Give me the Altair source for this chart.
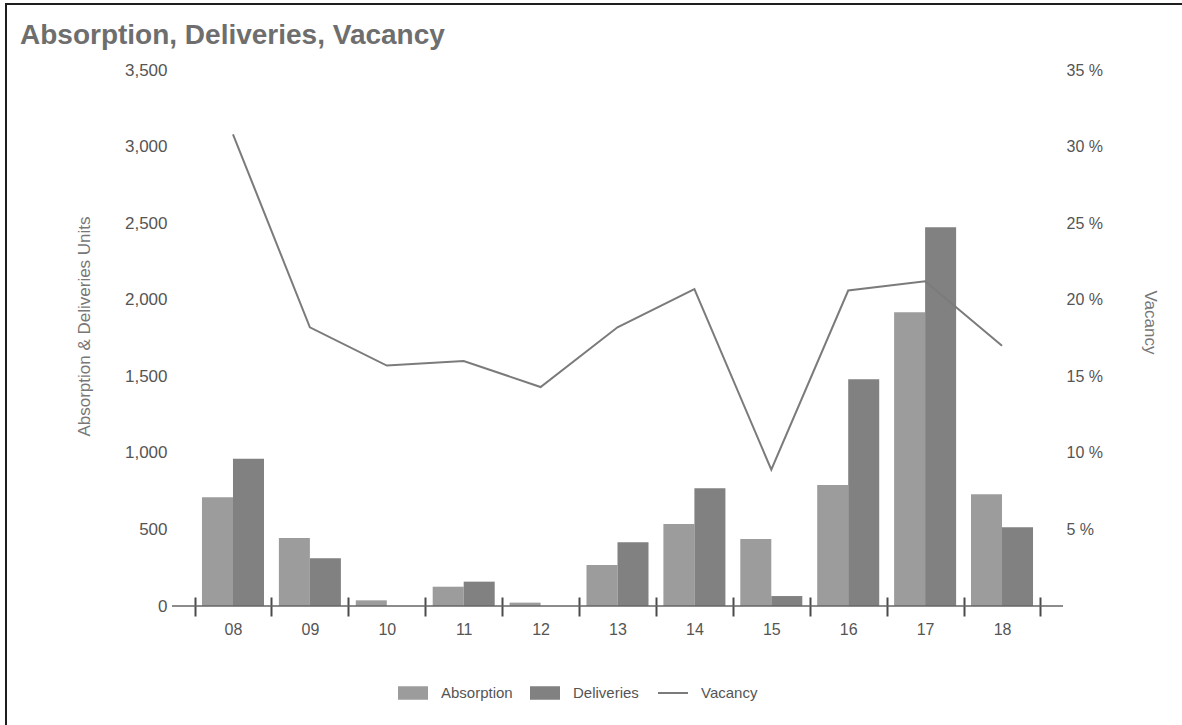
import altair as alt
import pandas as pd

# Year labels and yearly figures
years = ["08", "09", "10", "11", "12", "13", "14", "15", "16", "17", "18"]
absorption = [710, 444, 37, 126, 22, 268, 536, 438, 790, 1918, 730]
deliveries = [962, 311, 0, 159, 0, 416, 769, 65, 1480, 2473, 514]
vacancy = [30.8, 18.2, 15.7, 16.0, 14.3, 18.2, 20.7, 8.9, 20.6, 21.2, 17.0]

units_ticks = [0, 500, 1000, 1500, 2000, 2500, 3000, 3500]
vacancy_ticks = [5, 10, 15, 20, 25, 30, 35]

bar_series = ["Absorption", "Deliveries"]
bar_shades = ["#9c9c9c", "#818181"]
line_series = ["Vacancy"]
line_shades = ["#7b7b7b"]

FONT = "Liberation Sans"
LABEL_SIZE = 16
TITLE_SIZE = 17
W, H = 891, 536
PAD = {"left": 172, "top": 70, "right": 119, "bottom": 119}

bars_df = pd.DataFrame({
    "year": years * 2,
    "series": ["Absorption"] * len(years) + ["Deliveries"] * len(years),
    "units": absorption + deliveries,
})
vac_df = pd.DataFrame({"year": years, "series": "Vacancy", "vacancy": vacancy})

legend_common = dict(
    title=None,
    orient="none",
    legendY=607,
    direction="horizontal",
    padding=0,
    symbolSize=900,
    labelOffset=12,
    columnPadding=16,
    labelFont=FONT,
    labelFontSize=15,
    labelColor="#555555",
)

# Category axis: ticks at band edges, straddling the zero line
x_axis = alt.Axis(
    title=None,
    tickBand="extent",
    domain=False,
    offset=-9,
    tickSize=19,
    tickWidth=2,
    tickColor="#4a4a4a",
    labelPadding=5,
    labelAngle=0,
    labelFont=FONT,
    labelFontSize=LABEL_SIZE,
    labelColor="#555555",
)
x_enc = alt.X("year:N", sort=years, scale=alt.Scale(paddingInner=0, paddingOuter=0.293), axis=x_axis)

bars = alt.Chart(bars_df).mark_bar().encode(
    x=x_enc,
    xOffset=alt.XOffset("series:N", sort=bar_series,
                        scale=alt.Scale(paddingInner=0, paddingOuter=0.24)),
    y=alt.Y(
        "units:Q",
        scale=alt.Scale(domain=[0, 3500], nice=False),
        axis=alt.Axis(
            values=units_ticks,
            format=",.0f",
            title="Absorption & Deliveries Units",
            grid=False,
            domain=False,
            ticks=False,
            labelPadding=5,
            labelFont=FONT,
            labelFontSize=17,
            labelColor="#555555",
            titleFont=FONT,
            titleFontSize=TITLE_SIZE,
            titleFontWeight="normal",
            titleColor="#777777",
            titlePadding=31,
            titleY=256,
        ),
    ),
    fill=alt.Fill(
        "series:N",
        scale=alt.Scale(domain=bar_series, range=bar_shades),
        legend=alt.Legend(legendX=225, symbolType="M-1,-0.45H1V0.45H-1Z", **legend_common),
    ),
)

# Zero baseline across the whole plot
baseline = alt.Chart(alt.Data(values=[{}])).mark_rule(color="#666666", strokeWidth=1.5).encode(
    y=alt.datum(0), x=alt.value(0), x2=alt.value(W)
)

line = alt.Chart(vac_df).mark_line(strokeWidth=2).encode(
    x=x_enc,
    y=alt.Y(
        "vacancy:Q",
        scale=alt.Scale(domain=[0, 35], nice=False),
        axis=alt.Axis(
            orient="right",
            values=vacancy_ticks,
            labelExpr="datum.value + ' %'",
            title="Vacancy",
            grid=False,
            domain=False,
            ticks=False,
            labelPadding=3,
            labelFont=FONT,
            labelFontSize=LABEL_SIZE,
            labelColor="#555555",
            titleFont=FONT,
            titleFontSize=TITLE_SIZE,
            titleFontWeight="normal",
            titleColor="#777777",
            titlePadding=38,
            titleY=252,
        ),
    ),
    stroke=alt.Stroke(
        "series:N",
        scale=alt.Scale(domain=line_series, range=line_shades),
        legend=alt.Legend(legendX=485, symbolType="stroke", symbolStrokeWidth=2, **legend_common),
    ),
)

# Thin frame along the top and left edges of the figure
frame = alt.Chart(alt.Data(values=[{}])).mark_rect(
    fill="transparent", stroke="#1e1e1e", strokeWidth=2
).encode(
    x=alt.value(-166), x2=alt.value(W + 300), y=alt.value(-66), y2=alt.value(H + 300)
)

chart = (
    alt.layer(alt.layer(bars, baseline), line, frame)
    .resolve_scale(y="independent")
    .properties(
        width=W,
        height=H,
        padding=PAD,
        autosize=alt.AutoSizeParams(type="none"),
        background="white",
        title=alt.TitleParams(
            "Absorption, Deliveries, Vacancy",
            anchor="start",
            frame="group",
            dx=-152,
            dy=83,
            offset=14,
            baseline="alphabetic",
            font=FONT,
            fontSize=28,
            fontWeight="bold",
            color="#6e6e6e",
        ),
    )
    .configure_view(stroke="transparent", strokeWidth=0)
)

chart.save("out.html", embed_options={"renderer": "svg", "actions": False})
